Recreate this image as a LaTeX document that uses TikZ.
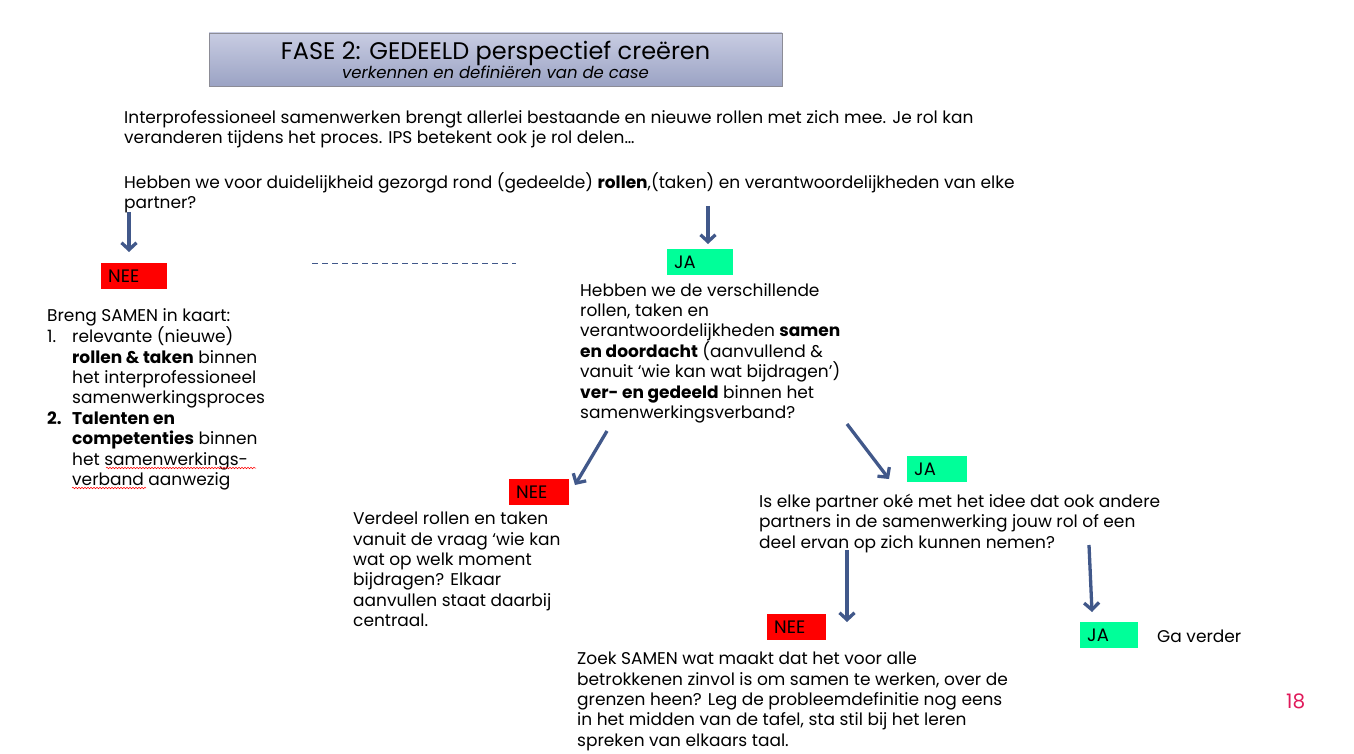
\documentclass[tikz,border=0pt]{standalone}
\usepackage{fontspec}
\setmainfont{Poppins}
\usetikzlibrary{arrows.meta, decorations.pathmorphing}
\definecolor{flowblue}{RGB}{65,88,138}
\definecolor{neered}{RGB}{255,0,0}
\definecolor{jagreen}{RGB}{0,255,153}
\definecolor{pagered}{RGB}{224,25,90}
\begin{document}
\begin{tikzpicture}[x=1pt, y=-1pt,
  txt/.style={anchor=north west, align=left, inner sep=0pt, font=\fontsize{17}{20.4}\selectfont},
  boxbase/.style={anchor=north west, align=left, inner xsep=7pt, inner ysep=0pt, minimum height=26pt, font=\fontsize{18}{20}\selectfont},
  neebox/.style={boxbase, fill=neered, text width=#1},
  jabox/.style={boxbase, fill=jagreen, text width=#1},
  flow/.style={draw=flowblue, line width=3.3pt, -{Straight Barb[length=7pt, width=15pt]}},
  spell/.style={draw=red, line width=0.5pt, decorate, decoration={snake, amplitude=0.8pt, segment length=3pt}}]
  \useasboundingbox (0,0) rectangle (1354,754);
  \node[draw={rgb,255:red,140;green,140;blue,150}, top color={rgb,255:red,200;green,204;blue,226}, bottom color={rgb,255:red,155;green,163;blue,196},
    minimum width=573pt, minimum height=53pt, inner sep=0pt, align=center] (title) at (495.5,59.5)
    {{\fontsize{24}{26}\selectfont FASE 2: GEDEELD perspectief creëren}\\[-1pt]{\fontsize{16.5}{18}\selectfont\itshape verkennen en definiëren van de case}};
  \node[txt] (intro) at (124,110) {Interprofessioneel samenwerken brengt allerlei bestaande en nieuwe rollen met zich mee. Je rol kan\\veranderen tijdens het proces. IPS betekent ook je rol delen…};
  \node[txt] (vraag) at (124,172) {Hebben we voor duidelijkheid gezorgd rond (gedeelde) \textbf{rollen},(taken) en verantwoordelijkheden van elke\\partner?};
  \node[neebox=52pt] (nee1) at (101,263) {NEE};
  \node[jabox=52pt] (ja1) at (667,249) {JA};
  \node[txt] (kaart) at (47,308) {Breng SAMEN in kaart:\\
    \makebox[25pt][l]{1.}relevante (nieuwe)\\
    \hspace*{25pt}\textbf{rollen \& taken} binnen\\
    \hspace*{25pt}het interprofessioneel\\
    \hspace*{25pt}samenwerkingsproces\\
    \makebox[25pt][l]{\textbf{2.}}\textbf{Talenten en}\\
    \hspace*{25pt}\textbf{competenties} binnen\\
    \hspace*{25pt}het samenwerkings-\\
    \hspace*{25pt}verband aanwezig};
  \node[txt] (rollen) at (580,283) {Hebben we de verschillende\\rollen, taken en\\verantwoordelijkheden \textbf{samen}\\\textbf{en doordacht} (aanvullend \&\\vanuit ‘wie kan wat bijdragen’)\\\textbf{ver- en gedeeld} binnen het\\samenwerkingsverband?};
  \node[neebox=46pt] (nee2) at (509,479) {NEE};
  \node[jabox=46pt] (ja2) at (907,456) {JA};
  \node[txt] (verdeel) at (353,512) {Verdeel rollen en taken\\vanuit de vraag ‘wie kan\\wat op welk moment\\bijdragen? Elkaar\\aanvullen staat daarbij\\centraal.};
  \node[txt] (oke) at (759,494) {Is elke partner oké met het idee dat ook andere\\partners in de samenwerking jouw rol of een\\deel ervan op zich kunnen nemen?};
  \node[neebox=45pt] (nee3) at (767,614) {NEE};
  \node[jabox=44pt] (ja3) at (1080,622) {JA};
  \node[txt] (verder) at (1157,630) {Ga verder};
  \node[txt] (zoek) at (577,652) {Zoek SAMEN wat maakt dat het voor alle\\betrokkenen zinvol is om samen te werken, over de\\grenzen heen? Leg de probleemdefinitie nog eens\\in het midden van de tafel, sta stil bij het leren\\spreken van elkaars taal.};
  \node[txt, font=\fontsize{20}{22}\selectfont, text=pagered] (pagina) at (1286,694) {18};
  \coordinate (a1s) at (129,212); \coordinate (a1e) at (129,252);
  \coordinate (a2s) at (708,206); \coordinate (a2e) at (708,244);
  \coordinate (a3s) at (607,431); \coordinate (a3e) at (575,485);
  \coordinate (a4s) at (847,424); \coordinate (a4e) at (889,479);
  \coordinate (a5s) at (847,550); \coordinate (a5e) at (847,622);
  \coordinate (a6s) at (1089,545); \coordinate (a6e) at (1092,612);
  \draw[flow] (a1s) -- (a1e);
  \draw[flow] (a2s) -- (a2e);
  \draw[flow] (a3s) -- (a3e);
  \draw[flow] (a4s) -- (a4e);
  \draw[flow] (a5s) -- (a5e);
  \draw[flow] (a6s) -- (a6e);
  \coordinate (ds) at (312,263); \coordinate (de) at (516,263);
  \draw[flowblue, line width=0.8pt, dash pattern=on 6pt off 4pt] (ds) -- (de);
  \draw[spell] (106,468) -- (256,468);
  \draw[spell] (72,488) -- (146,488);
\end{tikzpicture}
\end{document}
